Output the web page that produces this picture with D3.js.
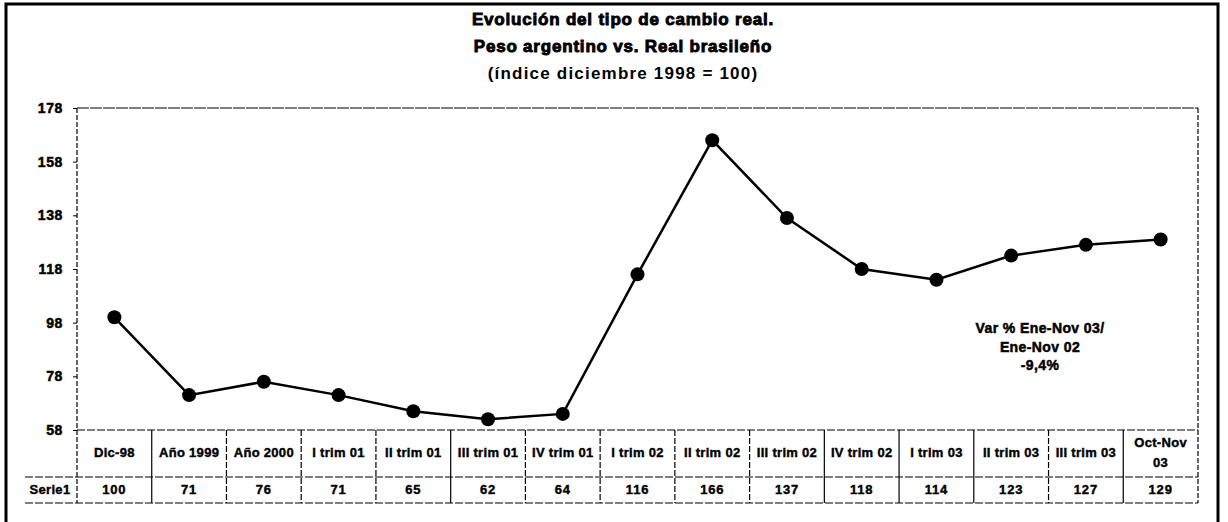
<!DOCTYPE html>
<html>
<head>
<meta charset="utf-8">
<script src="https://cdn.jsdelivr.net/npm/d3@7"></script>
<style>
  body { margin: 0; background: #fff; }
  svg text { font-family: "Liberation Sans", Arial, sans-serif; font-weight: bold; fill: #000; }
  svg text.heavy { stroke: #000; stroke-width: 0.5px; }
</style>
</head>
<body>
<div id="chart"></div>
<script>
// data
const categories = ["Dic-98", "Año 1999", "Año 2000", "I trim 01", "II trim 01", "III trim 01", "IV trim 01",
    "I trim 02", "II trim 02", "III trim 02", "IV trim 02", "I trim 03", "II trim 03", "III trim 03", "Oct-Nov 03"];
const serie1 = [100, 71, 76, 71, 65, 62, 64, 116, 166, 137, 118, 114, 123, 127, 129];
const yTicks = [58, 78, 98, 118, 138, 158, 178];
const titleLines = ["Evolución del tipo de cambio real.", "Peso argentino vs. Real brasileño", "(índice diciembre 1998 = 100)"];
const noteLines = ["Var % Ene-Nov 03/", "Ene-Nov 02", "-9,4%"];
const seriesName = "Serie1";

const W = 1228, H = 522;
const plot = { left: 77, right: 1198, top: 108, bottom: 430 };
const rowSplit = 477, tableBottom = 503, tableLeft = 25;

const svg = d3.select("#chart").append("svg")
    .attr("width", W)
    .attr("height", H);

// outer frame
svg.append("rect")
    .attr("x", 6).attr("y", 4)
    .attr("width", 1212).attr("height", 520)
    .attr("fill", "none")
    .attr("stroke", "#000")
    .attr("stroke-width", 3);

// title (first two lines heavier)
svg.selectAll(".title")
    .data(titleLines)
    .enter().append("text")
    .attr("class", (d, i) => i < 2 ? "title heavy" : "title")
    .attr("x", 623)
    .attr("y", (d, i) => 25 + i * 27)
    .attr("text-anchor", "middle")
    .style("font-size", "17px")
    .style("letter-spacing", (d, i) => i < 2 ? "0.8px" : "1.2px")
    .style("stroke-width", (d, i) => i < 2 ? "0.9px" : "0.3px")
    .text(d => d);

const x = d3.scaleBand()
    .domain(categories)
    .range([plot.left, plot.right]);

const y = d3.scaleLinear()
    .domain([58, 178])
    .range([plot.bottom, plot.top]);

// y axis
const yAxis = svg.append("g")
    .attr("transform", `translate(${plot.left},0)`)
    .call(d3.axisLeft(y).tickValues(yTicks).tickSize(4).tickPadding(10));
yAxis.select(".domain").remove();
yAxis.selectAll("line").attr("stroke", "#000");
yAxis.selectAll("text")
    .attr("class", "heavy")
    .attr("fill", "#000")
    .style("font-size", "14px")
    .style("letter-spacing", "0.6px")
    .style("font-family", "'Liberation Sans', Arial, sans-serif")
    .style("font-weight", "bold");

const dash = "5,2";
const lineStyle = sel => sel.attr("stroke", "#000").attr("stroke-width", 1.2);

// plot border (left axis, top, right)
lineStyle(svg.append("line")
    .attr("x1", plot.left).attr("x2", plot.left)
    .attr("y1", plot.top).attr("y2", tableBottom)
    .attr("stroke-dasharray", dash));
lineStyle(svg.append("line")
    .attr("x1", plot.left).attr("x2", plot.right)
    .attr("y1", plot.top).attr("y2", plot.top)
    .attr("stroke-dasharray", "12,1"));
lineStyle(svg.append("line")
    .attr("x1", plot.right).attr("x2", plot.right)
    .attr("y1", plot.top).attr("y2", tableBottom)
    .attr("stroke-dasharray", dash));

// data table grid
lineStyle(svg.append("line")
    .attr("x1", plot.left).attr("x2", plot.right)
    .attr("y1", plot.bottom).attr("y2", plot.bottom)
    .attr("stroke-dasharray", "8,2"));
[rowSplit, tableBottom].forEach(yy => {
    lineStyle(svg.append("line")
        .attr("x1", tableLeft).attr("x2", plot.right)
        .attr("y1", yy).attr("y2", yy)
        .attr("stroke-dasharray", "8,2"));
});

const solidDividers = ["Año 1999", "III trim 01", "IV trim 02", "I trim 03", "II trim 03", "Oct-Nov 03"];
svg.selectAll(".divider")
    .data(categories.slice(1))
    .enter().append("line")
    .attr("class", "divider")
    .attr("x1", d => x(d)).attr("x2", d => x(d))
    .attr("y1", plot.bottom).attr("y2", tableBottom)
    .attr("stroke", "#000")
    .attr("stroke-width", 1.2)
    .attr("stroke-dasharray", d => solidDividers.includes(d) ? null : "6,2");

// category labels
svg.selectAll(".cat")
    .data(categories)
    .enter().append("text")
    .attr("class", "cat heavy")
    .attr("x", d => x(d) + x.bandwidth() / 2)
    .attr("y", 457)
    .attr("text-anchor", "middle")
    .style("font-size", "13px")
    .style("stroke-width", "0.4px")
    .style("letter-spacing", "0.3px")
    .each(function(d) {
        const t = d3.select(this);
        if (d === "Oct-Nov 03") {
            t.append("tspan").attr("x", x(d) + x.bandwidth() / 2).attr("y", 447).text("Oct-Nov");
            t.append("tspan").attr("x", x(d) + x.bandwidth() / 2).attr("y", 467).text("03");
        } else {
            t.text(d);
        }
    });

// value row
svg.append("text")
    .attr("class", "heavy")
    .attr("x", 50).attr("y", 494)
    .attr("text-anchor", "middle")
    .style("font-size", "13px")
    .style("stroke-width", "0.4px")
    .style("letter-spacing", "0.3px")
    .text(seriesName);

svg.selectAll(".val")
    .data(serie1)
    .enter().append("text")
    .attr("class", "val heavy")
    .attr("x", (d, i) => x(categories[i]) + x.bandwidth() / 2)
    .attr("y", 494)
    .attr("text-anchor", "middle")
    .style("font-size", "13px")
    .style("stroke-width", "0.4px")
    .style("letter-spacing", "0.8px")
    .text(d => d);

// series line + markers
const line = d3.line()
    .x((d, i) => x(categories[i]) + x.bandwidth() / 2)
    .y(d => y(d));

svg.append("path")
    .datum(serie1)
    .attr("d", line)
    .attr("fill", "none")
    .attr("stroke", "#000")
    .attr("stroke-width", 2.5);

svg.selectAll(".dot")
    .data(serie1)
    .enter().append("circle")
    .attr("class", "dot")
    .attr("cx", (d, i) => x(categories[i]) + x.bandwidth() / 2)
    .attr("cy", d => y(d))
    .attr("r", 7)
    .attr("fill", "#000");

// annotation
svg.selectAll(".note")
    .data(noteLines)
    .enter().append("text")
    .attr("class", "note heavy")
    .attr("x", 1040)
    .attr("y", (d, i) => 333 + i * 18.5)
    .attr("text-anchor", "middle")
    .style("font-size", "14px")
    .style("stroke-width", "0.5px")
    .style("letter-spacing", "0.4px")
    .text(d => d);
</script>
</body>
</html>
